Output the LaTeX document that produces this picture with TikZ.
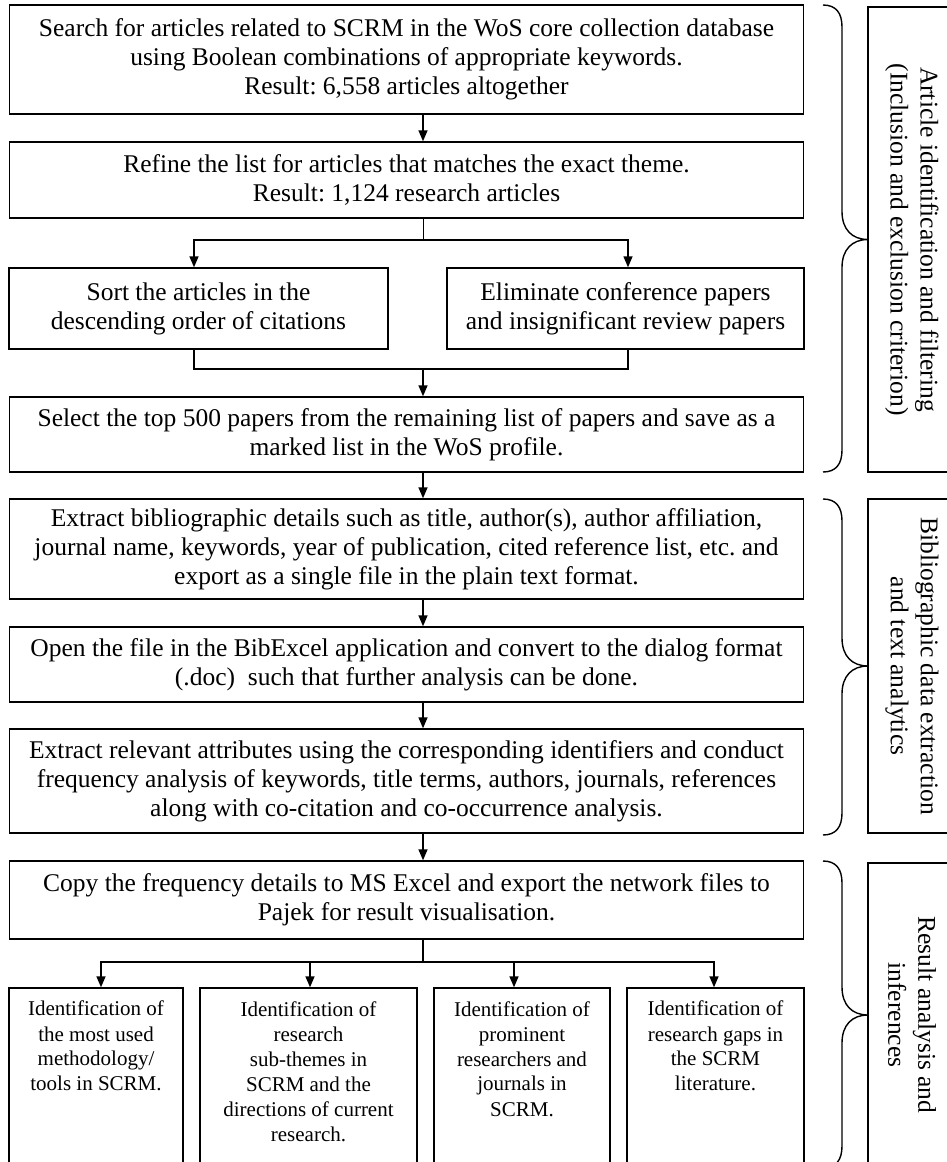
\documentclass[tikz,border=0pt]{standalone}
\usepackage{fontspec}
\setmainfont{Liberation Serif}
\usetikzlibrary{arrows.meta,calc}
\frenchspacing
\begin{document}
\begin{tikzpicture}[x=1pt,y=-1pt,
  stepbox/.style={draw,line width=1.4pt,inner sep=0pt,align=center,
    font=\fontsize{25.5}{29}\selectfont},
  wide/.style={stepbox,minimum width=794pt},
  leafbox/.style={draw,line width=1.4pt,inner sep=0pt,minimum height=192pt},
  leaftext/.style={anchor=north,inner sep=0pt,align=center,
    font=\fontsize{21}{25}\selectfont},
  phase/.style={draw,line width=1.4pt,rotate=-90,inner sep=0pt,align=center,
    minimum height=88pt,font=\fontsize{25.5}{30}\selectfont},
  arr/.style={line width=1.4pt,-{Triangle[length=11pt,width=9pt]}},
  link/.style={line width=1.4pt},
  brace/.style={line width=1.4pt}
]
\useasboundingbox (0,0) rectangle (947,1162);
\clip (0,0) rectangle (947,1162);

% main column of steps
\node[wide,minimum height=109pt] (search) at (406.5,59.5)
  {Search for articles related to SCRM in the WoS core collection database\\
   using Boolean combinations of appropriate keywords.\\
   Result: 6,558 articles altogether};
\node[wide,minimum height=76pt] (refine) at (406.5,180)
  {Refine the list for articles that matches the exact theme.\\
   Result: 1,124 research articles};
\node[stepbox,minimum width=379pt,minimum height=81pt] (sort) at (198.5,308.5)
  {Sort the articles in the\\descending order of citations};
\node[stepbox,minimum width=357pt,minimum height=81pt] (elim) at (625.5,308.5)
  {Eliminate conference papers\\and insignificant review papers};
\node[wide,minimum height=75pt] (select) at (406.5,434.5)
  {Select the top 500 papers from the remaining list of papers and save as a\\
   marked list in the WoS profile.};
\node[wide,minimum height=100pt] (extract) at (406.5,549)
  {Extract bibliographic details such as title, author(s), author affiliation,\\
   journal name, keywords, year of publication, cited reference list, etc. and\\
   export as a single file in the plain text format.};
\node[wide,minimum height=75pt] (open) at (406.5,664.5)
  {Open the file in the BibExcel application and convert to the dialog format\\
   (.doc)\ \ such that further analysis can be done.};
\node[wide,minimum height=104pt] (attr) at (406.5,781)
  {Extract relevant attributes using the corresponding identifiers and conduct\\
   frequency analysis of keywords, title terms, authors, journals, references\\
   along with co-citation and co-occurrence analysis.};
\node[wide,minimum height=78pt] (copy) at (406.5,900)
  {Copy the frequency details to MS Excel and export the network files to\\
   Pajek for result visualisation.};

% four outcome boxes
\node[leafbox,minimum width=174pt] (outa) at (96,1084) {};
\node[leafbox,minimum width=217pt] (outb) at (308.5,1084) {};
\node[leafbox,minimum width=176pt] (outc) at (522,1084) {};
\node[leafbox,minimum width=177pt] (outd) at (715.5,1084) {};
\node[leaftext] (ta) at (96,1001)
  {Identification of\\the most used\\methodology/\\tools in SCRM.};
\node[leaftext] (tb) at (308.5,1001)
  {Identification of\\research\\sub-themes in\\SCRM and the\\directions of current\\research.};
\node[leaftext] (tc) at (522,1001)
  {Identification of\\prominent\\researchers and\\journals in\\SCRM.};
\node[leaftext] (td) at (715.5,1001)
  {Identification of\\research gaps in\\the SCRM\\literature.};

% phase labels
\node[phase,minimum width=465pt] (ph1) at (912,239.5)
  {Article identification and filtering\\(Inclusion and exclusion criterion)};
\node[phase,minimum width=334pt] (ph2) at (912,666)
  {Bibliographic data extraction\\and text analytics};
\node[phase,minimum width=304pt] (ph3) at (912,1015)
  {Result analysis and\\inferences};

% connectors
\draw[arr] ([xshift=16.5pt]search.south) -- ([xshift=16.5pt]refine.north);
\coordinate (split) at (423,240);
\draw[line width=0.7pt] ([xshift=16.5pt]refine.south) -- (split);
\draw[arr] (split) -| ([xshift=-4.5pt]sort.north);
\draw[arr] (split) -| ([xshift=2.5pt]elim.north);
\coordinate (merge) at (423,369);
\draw[link] ([xshift=-4.5pt]sort.south) |- (merge) -| ([xshift=2.5pt]elim.south);
\draw[arr] (merge) -- ([xshift=16.5pt]select.north);
\draw[arr] ([xshift=16.5pt]select.south) -- ([xshift=16.5pt]extract.north);
\draw[arr] ([xshift=16.5pt]extract.south) -- ([xshift=16.5pt]open.north);
\draw[arr] ([xshift=16.5pt]open.south) -- ([xshift=16.5pt]attr.north);
\draw[arr] ([xshift=16.5pt]attr.south) -- ([xshift=16.5pt]copy.north);
\coordinate (fan) at (423,962);
\draw[link] ([xshift=16.5pt]copy.south) -- (fan);
\draw[arr] (fan) -| ([xshift=5pt]outa.north);
\draw[arr] (fan) -| ([xshift=1.5pt]outb.north);
\draw[arr] (fan) -| ([xshift=-8pt]outc.north);
\draw[arr] (fan) -| ([xshift=-1.5pt]outd.north);

% curly braces grouping the phases
\foreach \t/\m/\b in {5/239.5/472, 499/666/835, 861/1015/1168}{
  \draw[brace] (823,\t) .. controls (836,\t) and (842,\t+8) .. (842,\t+22)
    -- (842,\m-28) .. controls (842,\m-10) and (852,\m) .. (868,\m)
    .. controls (852,\m) and (842,\m+10) .. (842,\m+28)
    -- (842,\b-22) .. controls (842,\b-8) and (836,\b) .. (823,\b);
}
\end{tikzpicture}
\end{document}
